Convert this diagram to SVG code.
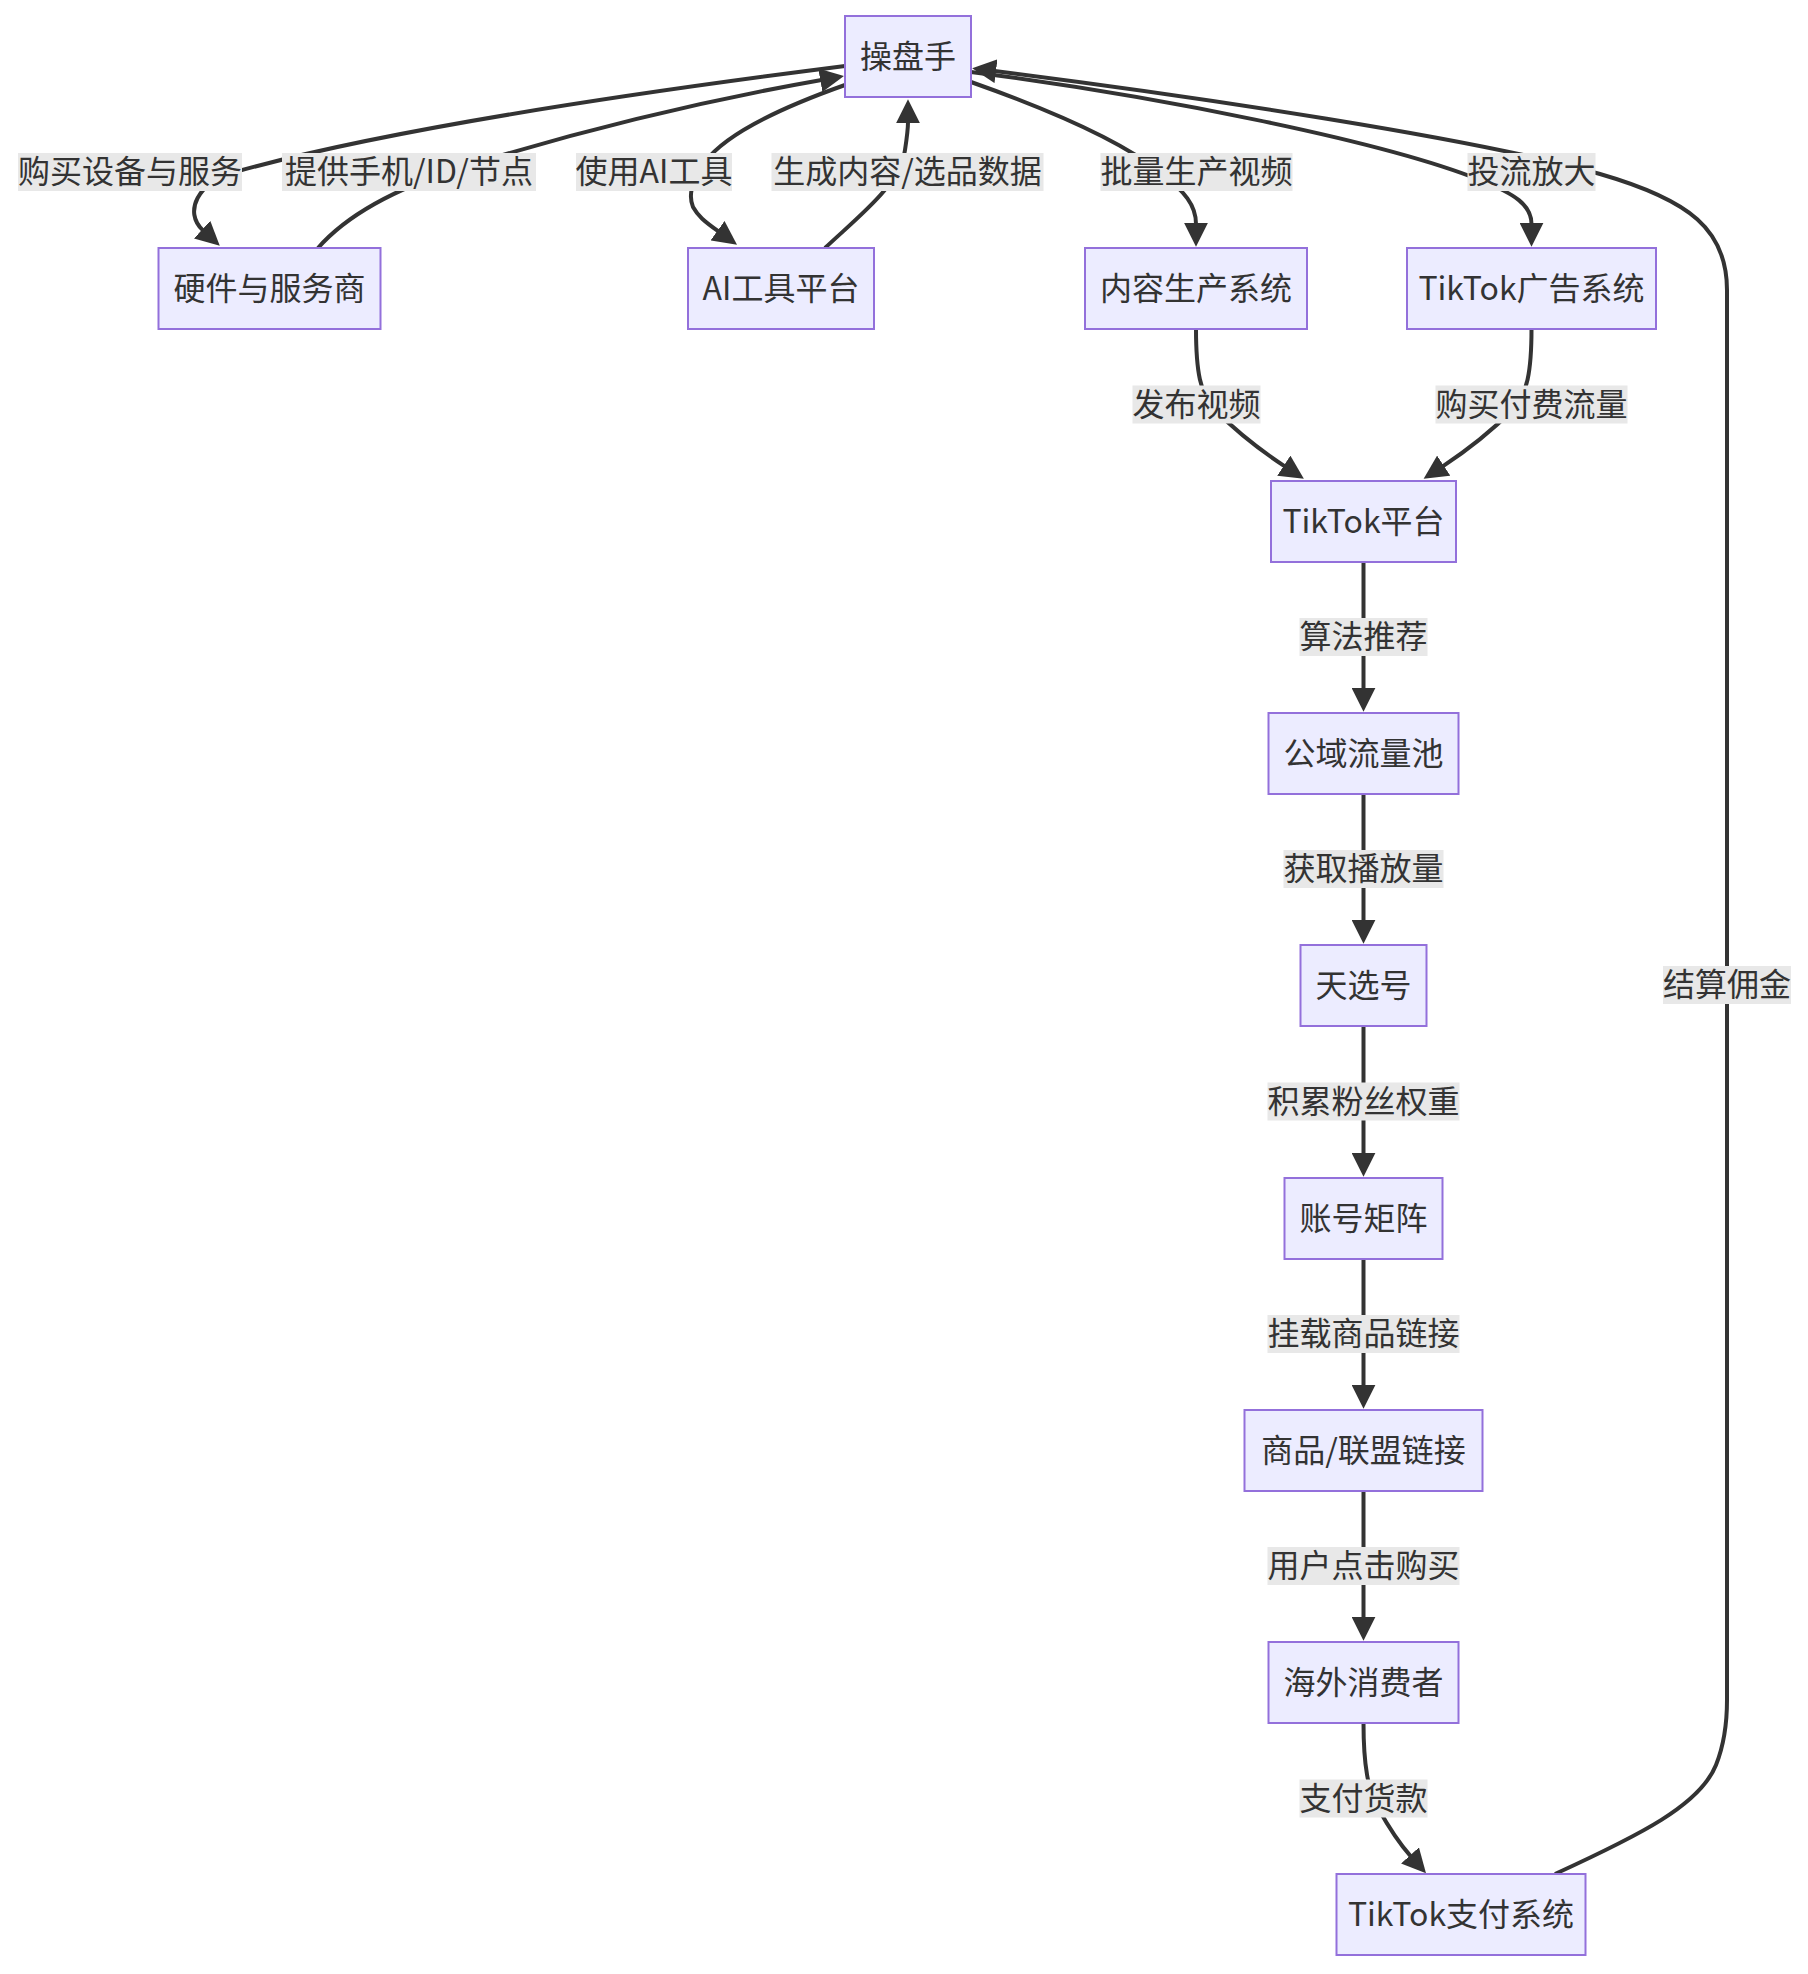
<svg xmlns="http://www.w3.org/2000/svg" width="1808" height="1974" viewBox="0 0 1808 1974">
<style>
.node rect{fill:#ECECFF;stroke:#9370DB;stroke-width:2}
text{font-family:"Noto Sans CJK SC","Liberation Sans",sans-serif;font-size:32px;fill:#333;text-anchor:middle;dominant-baseline:central}
.edge{fill:none;stroke:#333;stroke-width:4}
.lbl rect{fill:#e8e8e8}
</style>
<defs>
<marker id="arrow" viewBox="0 0 10 10" refX="0.5" refY="5" markerUnits="userSpaceOnUse" markerWidth="24" markerHeight="24" orient="auto">
<path d="M0,0 L10,5 L0,10 z" fill="#333"/>
</marker>
</defs>
<rect width="1808" height="1974" fill="#fff"/>
<g id="connectors">
<path class="edge" marker-end="url(#arrow)" d="M845,66 Q420,120 235,172 C198,182 183,212 203,230.4"/>
<path class="edge" marker-end="url(#arrow)" d="M318,248 Q360,200 460,168 Q640,112 821.5,80"/>
<path class="edge" marker-end="url(#arrow)" d="M845,85 C780,108 725,135 705,162 C692,180 688,195 693,207 C698,216 704,221 718.5,231.4"/>
<path class="edge" marker-end="url(#arrow)" d="M825,248 C860,215 900,185 905,150 C907,137 908,130 908,122"/>
<path class="edge" marker-end="url(#arrow)" d="M971,82 C1050,110 1120,140 1160,172 C1185,192 1196,205 1196,224"/>
<path class="edge" marker-end="url(#arrow)" d="M971,72 C1150,95 1380,140 1480,180 C1515,194 1531.5,205 1531.5,224"/>
<path class="edge" marker-end="url(#arrow)" d="M1555,1874 C1640,1835 1700,1805 1716,1765 C1724,1745 1727,1725 1727,1700 L1727,290 C1727,230 1690,200 1600,174 C1480,139 1193,96 994.8,71"/>
<path class="edge" marker-end="url(#arrow)" d="M1196,329 C1196,370 1200,395 1215,410 C1235,430 1260,450 1284.8,466.3"/>
<path class="edge" marker-end="url(#arrow)" d="M1531.5,329 C1531.5,370 1527.5,395 1512.5,410 C1492.5,430 1467.5,450 1442.7,466.3"/>
<path class="edge" marker-end="url(#arrow)" d="M1363.5,562 L1363.5,689"/>
<path class="edge" marker-end="url(#arrow)" d="M1363.5,794 L1363.5,921"/>
<path class="edge" marker-end="url(#arrow)" d="M1363.5,1026 L1363.5,1154"/>
<path class="edge" marker-end="url(#arrow)" d="M1363.5,1259 L1363.5,1386"/>
<path class="edge" marker-end="url(#arrow)" d="M1363.5,1491 L1363.5,1618"/>
<path class="edge" marker-end="url(#arrow)" d="M1363.5,1723 C1363.5,1765 1368,1790 1378,1808 C1388,1826 1398,1842 1410.8,1856.3"/>
</g>
<g id="edge-labels">
<g class="lbl"><rect x="18" y="153" width="224" height="38"/><text x="130" y="169">购买设备与服务</text></g>
<g class="lbl"><rect x="282" y="153" width="254" height="38"/><text x="409" y="169">提供手机/ID/节点</text></g>
<g class="lbl"><rect x="576" y="153" width="156" height="38"/><text x="654" y="169">使用AI工具</text></g>
<g class="lbl"><rect x="771.5" y="153" width="272" height="38"/><text x="907.5" y="169">生成内容/选品数据</text></g>
<g class="lbl"><rect x="1100.5" y="153" width="192" height="38"/><text x="1196.5" y="169">批量生产视频</text></g>
<g class="lbl"><rect x="1467.5" y="153" width="128" height="38"/><text x="1531.5" y="169">投流放大</text></g>
<g class="lbl"><rect x="1132.5" y="385.5" width="128" height="38"/><text x="1196.5" y="401.5">发布视频</text></g>
<g class="lbl"><rect x="1435.5" y="385.5" width="192" height="38"/><text x="1531.5" y="401.5">购买付费流量</text></g>
<g class="lbl"><rect x="1299.5" y="618" width="128" height="38"/><text x="1363.5" y="634">算法推荐</text></g>
<g class="lbl"><rect x="1283.5" y="850" width="160" height="38"/><text x="1363.5" y="866">获取播放量</text></g>
<g class="lbl"><rect x="1267.5" y="1082.5" width="192" height="38"/><text x="1363.5" y="1098.5">积累粉丝权重</text></g>
<g class="lbl"><rect x="1267.5" y="1315" width="192" height="38"/><text x="1363.5" y="1331">挂载商品链接</text></g>
<g class="lbl"><rect x="1267.5" y="1547" width="192" height="38"/><text x="1363.5" y="1563">用户点击购买</text></g>
<g class="lbl"><rect x="1299.5" y="1779.5" width="128" height="38"/><text x="1363.5" y="1795.5">支付货款</text></g>
<g class="lbl"><rect x="1663" y="966" width="128" height="38"/><text x="1727" y="982">结算佣金</text></g>
</g>
<g id="n-caopanshou" class="node"><rect x="845" y="16" width="126" height="81"/><text x="908" y="53.5">操盘手</text></g>
<g id="n-yingjian" class="node"><rect x="158.5" y="248" width="222" height="81"/><text x="269.5" y="285.5">硬件与服务商</text></g>
<g id="n-ai" class="node"><rect x="688" y="248" width="186" height="81"/><text x="781" y="285.5">AI工具平台</text></g>
<g id="n-neirong" class="node"><rect x="1085" y="248" width="222" height="81"/><text x="1196" y="285.5">内容生产系统</text></g>
<g id="n-guanggao" class="node"><rect x="1407" y="248" width="249" height="81"/><text x="1531.5" y="285.5">TikTok广告系统</text></g>
<g id="n-pingtai" class="node"><rect x="1271" y="481" width="185" height="81"/><text x="1363.5" y="518.5">TikTok平台</text></g>
<g id="n-gongyu" class="node"><rect x="1268.5" y="713" width="190" height="81"/><text x="1363.5" y="750.5">公域流量池</text></g>
<g id="n-tianxuan" class="node"><rect x="1300.5" y="945" width="126" height="81"/><text x="1363.5" y="982.5">天选号</text></g>
<g id="n-juzhen" class="node"><rect x="1284.5" y="1178" width="158" height="81"/><text x="1363.5" y="1215.5">账号矩阵</text></g>
<g id="n-shangpin" class="node"><rect x="1244.5" y="1410" width="238" height="81"/><text x="1363.5" y="1447.5">商品/联盟链接</text></g>
<g id="n-xiaofei" class="node"><rect x="1268.5" y="1642" width="190" height="81"/><text x="1363.5" y="1679.5">海外消费者</text></g>
<g id="n-zhifu" class="node"><rect x="1336.5" y="1874" width="249" height="81"/><text x="1461" y="1911.5">TikTok支付系统</text></g>
</svg>
